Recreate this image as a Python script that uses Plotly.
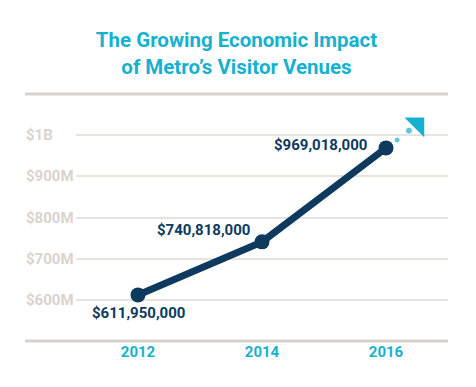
import plotly.graph_objects as go

title_lines = ["The Growing Economic Impact", "of Metro’s Visitor Venues"]
years = [2012, 2014, 2016]
impact_m = [611.95, 740.818, 969.018]  # millions of dollars
value_labels = ["$611,950,000", "$740,818,000", "$969,018,000"]
year_labels = ["2012", "2014", "2016"]
y_tick_vals = [600, 700, 800, 900, 1000]
y_tick_text = ["$600M", "$700M", "$800M", "$900M", "$1B"]
# trend continuation (dots + arrowhead) beyond 2016
trend_x = [2016.18, 2016.37]
trend_y = [988, 1011]
arrow_x = [2016.51]
arrow_y = [1027]

NAVY = "#0e3a5e"
CYAN = "#17b1d0"
TICKGRAY = "#dad3cd"
GRID = "#e7e3df"
FRAME = "#d7d1cb"

fig = go.Figure()
fig.add_trace(go.Scatter(
    x=years, y=impact_m, mode="lines+markers",
    line=dict(color=NAVY, width=7),
    marker=dict(color=NAVY, size=15),
    hoverinfo="skip", showlegend=False, cliponaxis=False,
))
fig.add_trace(go.Scatter(
    x=trend_x, y=trend_y, mode="markers",
    marker=dict(color=CYAN, size=[6, 7]),
    hoverinfo="skip", showlegend=False, cliponaxis=False,
))
fig.add_trace(go.Scatter(
    x=arrow_x, y=arrow_y, mode="markers",
    marker=dict(color=CYAN, size=22, symbol="triangle-ne"),
    hoverinfo="skip", showlegend=False, cliponaxis=False,
))

label_font = dict(family="Roboto", size=15, color=NAVY)
# data labels
fig.add_annotation(x=years[0], y=impact_m[0], text="<b>%s</b>" % value_labels[0],
                   showarrow=False, xanchor="center", yanchor="top", yshift=-7, font=label_font)
fig.add_annotation(x=years[1], y=impact_m[1], text="<b>%s</b>" % value_labels[1],
                   showarrow=False, xanchor="right", yanchor="middle", xshift=-10, yshift=12, font=label_font)
fig.add_annotation(x=years[2], y=impact_m[2], text="<b>%s</b>" % value_labels[2],
                   showarrow=False, xanchor="right", yanchor="middle", xshift=-17, yshift=3, font=label_font)

# left-aligned y tick labels
for v, t in zip(y_tick_vals, y_tick_text):
    fig.add_annotation(x=-0.14, xref="paper", y=v, yref="y", text="<b>%s</b>" % t,
                       showarrow=False, xanchor="left", yanchor="middle",
                       font=dict(family="Roboto", size=15, color=TICKGRAY))

# frame lines top and bottom
for yy in (0, 1):
    fig.add_shape(type="line", xref="paper", yref="paper", x0=-0.137, x1=1, y0=yy, y1=yy,
                  line=dict(color=FRAME, width=3), layer="below")

fig.update_layout(
    width=476, height=387,
    margin=dict(l=76, r=28, t=94, b=46),
    paper_bgcolor="white", plot_bgcolor="white",
    title=dict(text="<b>" + "<br>".join(title_lines) + "</b>",
               x=236.5 / 476, xref="container", xanchor="center",
               y=1 - 47 / 387, yref="container", yanchor="middle",
               font=dict(family="Roboto", size=20.5, color=CYAN)),
    xaxis=dict(range=[2011, 2017], tickvals=years, ticktext=["<b>%s</b>" % y for y in year_labels],
               showgrid=False, zeroline=False, showline=False, ticks="", automargin=False,
               tickfont=dict(family="Roboto", size=15, color=CYAN), fixedrange=True),
    yaxis=dict(range=[500, 1100], tickvals=y_tick_vals, showticklabels=False, automargin=False,
               showgrid=True, gridcolor=GRID, gridwidth=2, zeroline=False, showline=False,
               ticks="", fixedrange=True),
    showlegend=False,
)

fig.write_html("out.html", config={"displayModeBar": False},
               post_script="document.body.style.margin='0';document.body.style.overflow='hidden';")
